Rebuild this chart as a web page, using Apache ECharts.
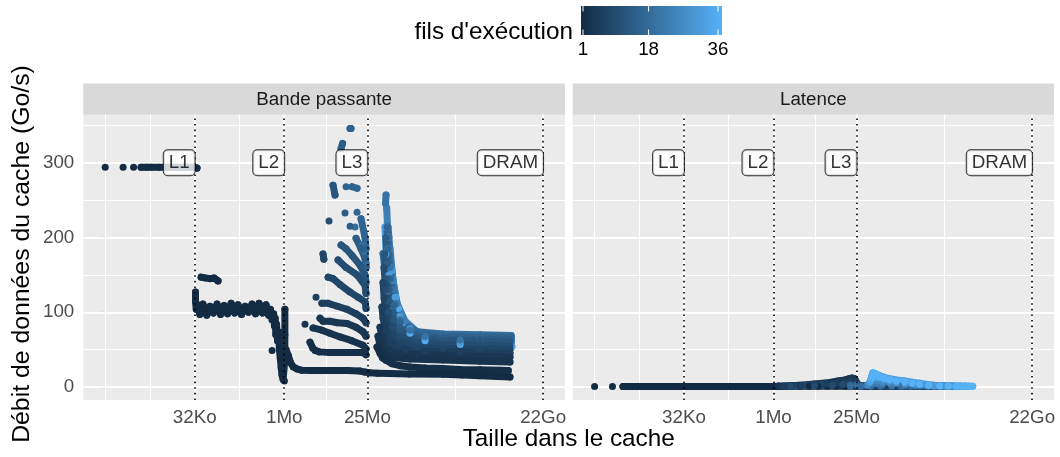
<!DOCTYPE html>
<html>
<head>
<meta charset="utf-8">
<script src="https://cdn.jsdelivr.net/npm/echarts@6/dist/echarts.min.js"></script>
<style>
html,body{margin:0;padding:0;background:#fff;}
#chart{width:1060px;height:457px;}
</style>
</head>
<body>
<div id="chart"></div>
<script>
// ---------- data (x = taille dans le cache en Ko, y = Go/s) ----------
const facetNames = ['Bande passante', 'Latence'];
const cacheKo = [32, 1024, 25600, 23068672];
const cacheNames = ['L1', 'L2', 'L3', 'DRAM'];
const xTickLabels = ['32Ko', '1Mo', '25Mo', '22Go'];
const yTicks = [0, 100, 200, 300];
const labelY = 300;
const legendTicks = [1, 18, 36];

// Bande passante, one array per thread count (null = gap between point groups)
const bw_t1 = [
  [1,294], null, [2,294], null, [3,294], null,
  [4,294],[5,294],[6,294],[8,294],[10,294],[12,294],[16,294],[20,294],[24,294],[28,294],[32,294],[35,293], null,
  [41,147],[48,146],[58,145],[68,146],[79,142], null,
  [33,127],[33,114],[34,104],[36,110],[39,97],[44,111],[51,96],[58,108],[66,99],[76,111],[87,97],[100,109],[114,98],[131,112],[150,99],[171,110],[196,97],[225,108],[257,100],[294,111],[337,98],[386,112],[442,99],[506,110],[560,96],[600,104],[640,90],[680,98],[700,82],[720,92],[740,70],[760,84],[790,62],[820,74],[850,50],[880,38],[910,26],[940,16],[980,10],[1030,8],[1045,35],[1050,70],[1050,104], null,
  [640,49], null,
  [1100,50],[1200,42],[1300,33],[1450,27],[1700,24],[2000,22.5],[3000,22],[6000,22],[12000,22],[19000,21.5],[23000,20],[28000,19],[38000,18.5],[60000,18],[130000,17.5],[480000,17],[1000000,16],[2000000,15],[4000000,14],[6400000,13.5]
];
const bw_t2 = [
  [2780,60],[3100,52],[3380,49],[4000,47],[6000,46],[10000,46],[15000,46],[20000,46],[23400,45],[24300,43], null,
  [37200,53.5],[41800,45],[46000,39],[52750,35.7],[66500,31],[90700,28.5],[133600,26.8],[240000,25.5],[480000,24.6],[930000,23.5],[2000000,23],[4360000,22.4],[6000000,22]
];
const bw_t3 = [
  [2290,84], null,
  [3124,79],[4400,76],[6000,72],[8900,67],[14000,62],[21640,56],[24300,51], null,
  [38700,68],[42000,55],[47000,46],[57000,41],[74800,39],[133600,37.5],[480000,36],[2000000,34.5],[6400000,33.5]
];
const bw_t4 = [
  [4096,92],[4600,88],[6000,88],[8000,86],[11650,85],[16500,80],[21640,74],[24300,68], null,
  [41800,80],[45000,66],[50000,56],[61600,49],[90700,45],[175000,43],[480000,42],[2000000,41],[6400000,40]
];
const bw_t6 = [
  [3510,120], null,
  [4400,112],[5600,112],[8000,108],[11650,104],[16500,98],[21640,92],[24300,86], null,
  [45000,107],[47000,92],[52000,75],[61000,62],[75000,55],[110000,50],[240000,48],[930000,47],[6400000,45]
];
const bw_t8 = [
  [4600,178],[4750,171], null,
  [5600,147],[6800,145],[8900,137],[13100,127],[18000,120],[23390,114],[24300,105], null,
  [47000,140],[49000,118],[55000,92],[66500,72],[90700,60],[175000,54],[480000,52],[2000000,51],[6400000,50]
];
const bw_t10 = [
  [5800,222], null,
  [8226,170],[11200,160],[17160,150],[23390,136],[24300,125], null,
  [48800,160],[52000,130],[58000,100],[69000,80],[90700,68],[175000,60],[480000,57],[2000000,56],[6400000,55]
];
const bw_t12 = [
  [6780,270],[7320,257], null,
  [9240,190],[11200,185],[14150,176],[19290,163],[23390,150],[24300,140], null,
  [50000,178],[53000,145],[59000,115],[69000,90],[90700,74],[175000,65],[480000,62],[2000000,61],[6400000,60]
];
const bw_t14 = [
  [9240,319],[9800,326], null,
  [10790,233], null, [13100,215], null, [16510,199],[20040,185],[23390,172],[24300,160], null,
  [52750,200],[55000,165],[60000,130],[69000,100],[90700,80],[175000,68],[480000,65],[2000000,64],[6400000,64]
];
const bw_t16 = [
  [13090,346],[13600,346], null,
  [11215,268], null, [14150,268],[17160,266], null,
  [17160,234], null, [20040,225],[23390,200],[24300,185], null,
  [54800,214],[57000,185],[62000,145],[72000,110],[90700,86],[175000,72],[480000,68],[2000000,67],[6600000,67]
];
const bw_t18 = [
  [15880,214], null, [20820,190],[23390,180],[24300,165], null,
  [47000,178.6],[50000,160],[57000,128],[69000,103],[90700,88],[175000,74],[480000,71],[2000000,70],[6700000,69]
];
const bw_t20 = [
  [52750,257],[51700,246], null,
  [57000,214],[59000,200],[62000,160],[69000,130],[77000,111],[90700,90],[133600,76],[239000,68],[930000,63],[6800000,62]
];
const bw_t23 = [
  [54000,240],[57000,201],[61600,185],[69000,143],[80800,112],[110000,88],[175000,74],[480000,68],[2000000,66],[6800000,66]
];
const bw_t30 = [
  [50750,214],[52750,178],[59000,150],[66500,156],[74800,120],[90700,95],[133600,78],[239000,66],[930000,60],[6800000,58]
];
const bw_t34 = [
  [55000,200],[57000,185],[62000,160],[69000,143],[77000,120],[85000,105],[100000,86],[133600,72],[239000,62],[930000,57],[6900000,54]
];

// Latence
const lat_t1 = [[1,0.6], null, [2,0.6], null, [3,0.6],[4,0.6],[5,0.6],[6,0.6],[8,0.6],[11,0.6],[16,0.6],[22,0.6],[32,0.6],[45,0.6],[64,0.6],[90,0.6],[128,0.65],[180,0.65],[256,0.7],[360,0.7],[512,0.75],[720,0.75],[1024,0.8],[1450,0.8],[2048,0.85],[2900,0.85],[4096,0.9],[5800,0.9],[8192,0.9],[11600,0.95],[16384,0.95],[25600,1],[36000,1],[51000,1],[72000,1],[100000,1],[140000,1],[200000,1],[280000,1],[360000,1],[437000,1]];
const lat_t4 = [[1240,1.2],[2000,1.8],[2850,2.5],[5000,4],[9090,6],[12500,8],[16270,9.5],[19000,11],[21300,12],[23400,11.5],[25000,8],[25900,5],[27500,3],[29100,1.5],[40000,1.2],[56000,1.1],[80000,1],[115000,1],[160000,1],[230000,1],[320000,1],[450000,1],[643800,1]];
const lat_t6 = [[1500,1],[3000,2],[5000,3],[8000,4.5],[12000,5.5],[16000,7],[20000,8],[24000,7],[26500,2],[40000,1],[60000,1],[90000,1],[130000,1],[200000,1],[290000,1],[420000,1],[600000,1]];
const lat_t9 = [[2000,1],[5000,1.8],[10000,2.5],[15000,3.5],[20000,4.5],[25000,3],[28000,1],[45000,1],[70000,1],[100000,1],[150000,1],[210000,1],[300000,1],[430000,1],[560000,1],[700000,1]];
const lat_t18 = [[20000,2],[26000,3],[30000,1],[45000,1.2],[65000,1.2],[100000,1.2],[145000,1.1],[210000,1.1],[300000,1],[420000,1],[600000,1],[780000,1],[948400,1]];
const lat_t22 = [[38000,2],[46000,5],[56000,4.5],[70000,4],[100000,3.2],[166000,2.5],[250000,2],[400000,1.5],[550000,1.2],[800000,1],[950000,1],[1100000,1]];
const lat_t26 = [[40000,3],[47000,10],[56000,8.5],[70000,7],[90000,6],[120000,5],[170000,4],[250000,3],[350000,2.2],[500000,1.5],[700000,1.2],[1000000,1],[1200000,1],[1400000,1]];
const lat_t30 = [[42800,6],[47000,16],[50000,18],[55000,17],[62900,15],[75000,13],[92800,11],[120000,9.5],[166000,8],[220000,6.5],[297000,5],[400000,3.5],[520000,2.5],[643800,2],[850000,1.5],[1200000,1],[1450000,1],[1763000,1]];
const lat_t33 = [[44000,8],[48000,14],[55000,13],[62900,12],[75000,10.5],[92800,9],[120000,7.5],[166000,6],[220000,4.8],[297000,3.5],[420000,2.5],[643800,1.5],[900000,1.2],[1300000,1],[1650000,1],[2000000,1]];
const lat_t36 = [[46000,12],[48000,19],[51000,18.5],[55000,17],[62900,14],[75000,12],[92800,10],[120000,8.5],[166000,7],[220000,5.5],[297000,4],[420000,2.5],[643800,1.5],[900000,1.2],[1200000,1],[1500000,1],[1800000,1],[2050000,1],[2311000,1]];

const bandwidth = [[1,bw_t1],[2,bw_t2],[3,bw_t3],[4,bw_t4],[6,bw_t6],[8,bw_t8],[10,bw_t10],[12,bw_t12],[14,bw_t14],[16,bw_t16],[18,bw_t18],[20,bw_t20],[23,bw_t23],[30,bw_t30],[34,bw_t34]];
const latency = [[1,lat_t1],[4,lat_t4],[6,lat_t6],[9,lat_t9],[18,lat_t18],[22,lat_t22],[26,lat_t26],[30,lat_t30],[33,lat_t33],[36,lat_t36]];

// ---------- scales ----------
const FONT = '"Liberation Sans", Arial, Helvetica, sans-serif';
const lx = v => Math.log2(v);
const xTickVals = cacheKo.map(lx);
const xSpan = xTickVals[xTickVals.length-1] - 0;
const XMIN = 0 - xSpan*0.05, XMAX = xTickVals[xTickVals.length-1] + xSpan*0.05;
const YMIN = -17.4, YMAX = 364.4;
const lo = [0x13,0x2B,0x43], hi = [0x56,0xB1,0xF7];
function col(t){ const f=(t-1)/35; return 'rgb('+lo.map((c,i)=>Math.round(c+(hi[i]-c)*f)).join(',')+')'; }

// minor breaks (ggplot style)
const xb = [xTickVals[0]-(xTickVals[1]-xTickVals[0])].concat(xTickVals);
const xMinor = [];
for (let i=0;i<xb.length;i++){ xMinor.push(xb[i]); if(i<xb.length-1) xMinor.push((xb[i]+xb[i+1])/2); }
const yMinor = yTicks.map(v=>v+50);

const grids = [
  {left:83.3, top:114.7, width:481.7, height:285.3},
  {left:572.7, top:114.7, width:481.3, height:285.3}
];

function splitSegs(arr){ const segs=[]; let cur=[]; arr.forEach(p=>{ if(p===null){ if(cur.length) segs.push(cur); cur=[]; } else cur.push(p); }); if(cur.length) segs.push(cur); return segs; }

const series = [];
[0,1].forEach(g=>{
  const ml = [];
  xMinor.filter(v=>v>XMIN&&v<XMAX).forEach(v=>ml.push({xAxis:v, lineStyle:{color:'#fff',width:1,type:'solid'}}));
  yMinor.filter(v=>v>YMIN&&v<YMAX).forEach(v=>ml.push({yAxis:v, lineStyle:{color:'#fff',width:1,type:'solid'}}));
  xTickVals.forEach(v=>ml.push({xAxis:v, lineStyle:{color:'#fff',width:2,type:'solid'}}));
  yTicks.forEach(v=>ml.push({yAxis:v, lineStyle:{color:'#fff',width:2,type:'solid'}}));
  series.push({type:'line', xAxisIndex:g, yAxisIndex:g, data:[], silent:true, z:1,
    markLine:{silent:true, z:1, symbol:['none','none'], animation:false, label:{show:false}, emphasis:{disabled:true}, data:ml}});
});

function addSeries(list, g){
  list.forEach(([t, arr])=>{
    splitSegs(arr).forEach(seg=>{
      series.push({type:'line', xAxisIndex:g, yAxisIndex:g, silent:true, z:2, animation:false,
        data: seg.map(p=>[lx(p[0]), p[1]]),
        showSymbol:true, showAllSymbol:true, symbol:'circle', symbolSize:7,
        lineStyle:{width:7, color:col(t), cap:'round', join:'round'},
        itemStyle:{color:col(t)}, emphasis:{disabled:true}});
    });
  });
}
addSeries(bandwidth.slice().reverse(), 0);
addSeries(latency, 1);

[0,1].forEach(g=>{
  series.push({type:'scatter', xAxisIndex:g, yAxisIndex:g, silent:true, z:10, animation:false,
    symbolSize:0.1, itemStyle:{color:'transparent'},
    data: cacheKo.map((k,i)=>({value:[lx(k), labelY], name:cacheNames[i]})),
    label:{show:true, position:'left', distance:0, formatter:'{b}', color:'#000', fontSize:18.8, lineHeight:19, fontFamily:FONT,
      backgroundColor:'#fff', borderColor:'#000', borderWidth:1, borderRadius:4, padding:[3,5,3,5]},
    markLine:{silent:true, z:5, symbol:['none','none'], animation:false, label:{show:false}, emphasis:{disabled:true},
      data: xTickVals.map(v=>({xAxis:v})), lineStyle:{color:'#000', width:1.6, type:[1.6,4]}}
  });
});

const xAxes = [0,1].map(g=>({type:'value', gridIndex:g, min:XMIN, max:XMAX,
  splitLine:{show:false}, axisLine:{show:false},
  axisTick:{show:true, customValues:xTickVals, length:5, lineStyle:{color:'#333', width:1.1}},
  axisLabel:{show:true, customValues:xTickVals, margin:8, color:'#4D4D4D', fontSize:18.8, fontFamily:FONT,
    formatter: v=>{ for(let i=0;i<xTickVals.length;i++){ if(Math.abs(xTickVals[i]-v)<1e-6) return xTickLabels[i]; } return ''; }}
}));
const yAxes = [0,1].map(g=>({type:'value', gridIndex:g, min:YMIN, max:YMAX,
  splitLine:{show:false}, axisLine:{show:false},
  axisTick:{show:g===0, customValues:yTicks, length:5, lineStyle:{color:'#333', width:1.1}},
  axisLabel:{show:g===0, customValues:yTicks, margin:9, color:'#4D4D4D', fontSize:18.8, fontFamily:FONT}
}));

// legend colour bar + strips + titles
const barX=581, barY=6, barW=141, barH=29;
const legX = v => 583 + (v-1)*(135/35);
const graphics = [];
grids.forEach((gd,i)=>{
  graphics.push({type:'rect', left:gd.left, top:83.5, shape:{width:gd.width, height:31.2}, style:{fill:'#D9D9D9'}, silent:true});
  graphics.push({type:'text', x:gd.left+gd.width/2, y:99.5, style:{text:facetNames[i], fill:'#1A1A1A', font:'18.8px '+FONT, textAlign:'center', textVerticalAlign:'middle'}, silent:true});
});
graphics.push({type:'rect', shape:{x:barX, y:barY, width:barW, height:barH},
  style:{fill:{type:'linear', x:0, y:0, x2:1, y2:0, colorStops:[{offset:0,color:col(1)},{offset:1,color:col(36)}]}}, silent:true});
legendTicks.forEach(v=>{
  const x = legX(v);
  graphics.push({type:'line', shape:{x1:x,y1:barY,x2:x,y2:barY+5.5}, style:{stroke:'#fff', lineWidth:1}, silent:true});
  graphics.push({type:'line', shape:{x1:x,y1:barY+barH-5.5,x2:x,y2:barY+barH}, style:{stroke:'#fff', lineWidth:1}, silent:true});
  graphics.push({type:'text', x:x, y:50, style:{text:String(v), fill:'#000', font:'18.8px '+FONT, textAlign:'center', textVerticalAlign:'middle'}, silent:true});
});
graphics.push({type:'text', x:573, y:32, style:{text:"fils d'exécution", fill:'#000', font:'24.3px '+FONT, textAlign:'right', textVerticalAlign:'middle'}, silent:true});
graphics.push({type:'text', x:568.7, y:439, style:{text:'Taille dans le cache', fill:'#000', font:'24.3px '+FONT, textAlign:'center', textVerticalAlign:'middle'}, silent:true});
graphics.push({type:'text', x:22, y:254, rotation:Math.PI/2, style:{text:'Débit de données du cache (Go/s)', fill:'#000', font:'24.8px '+FONT, textAlign:'center', textVerticalAlign:'middle'}, silent:true});

const chart = echarts.init(document.getElementById('chart'), null, {renderer:'canvas'});
chart.setOption({
  animation:false,
  backgroundColor:'#fff',
  grid: grids.map(gd=>Object.assign({show:true, backgroundColor:'#EBEBEB', borderWidth:0, containLabel:false}, gd)),
  xAxis: xAxes,
  yAxis: yAxes,
  series: series,
  graphic: graphics
});
</script>
</body>
</html>
